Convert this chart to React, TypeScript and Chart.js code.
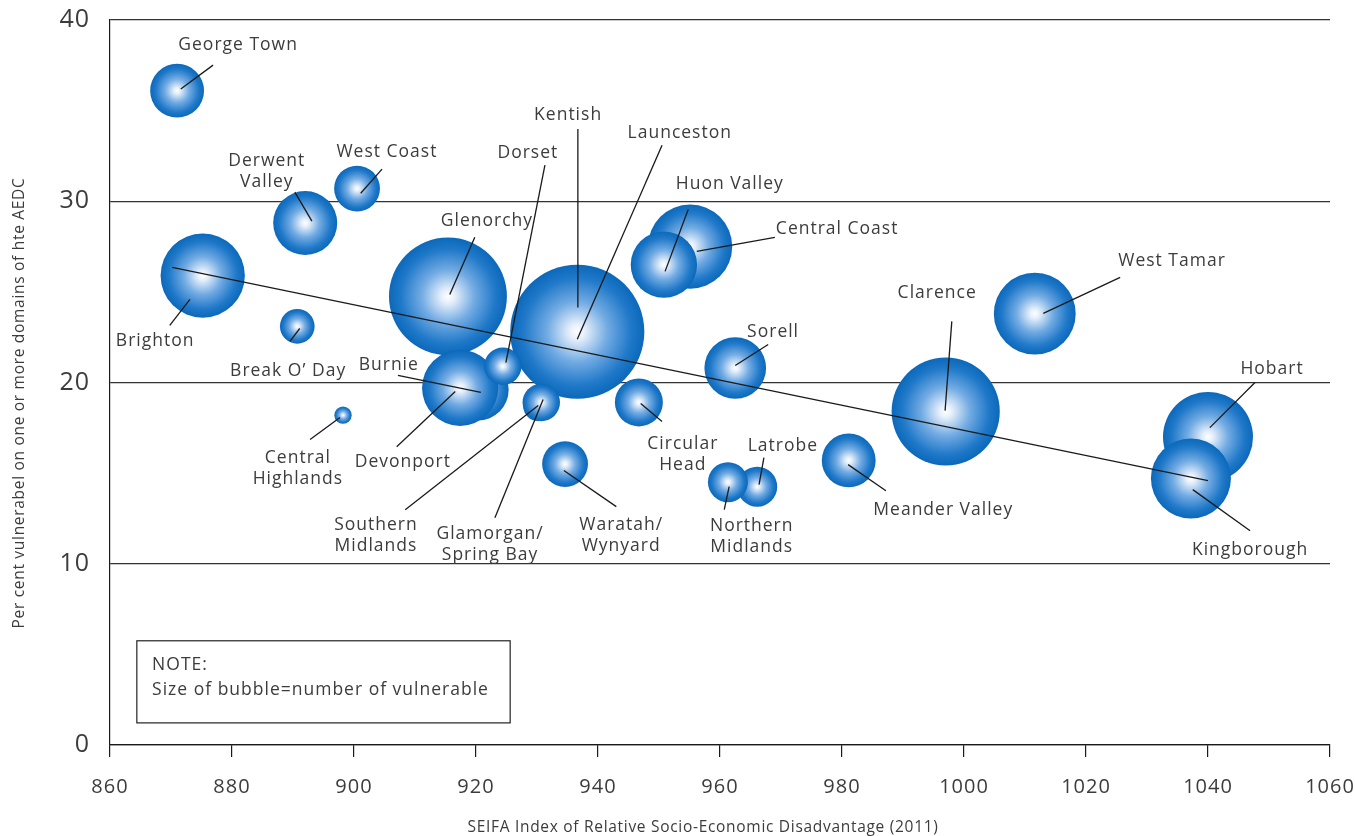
import React, { useEffect, useRef } from 'react';
import { Chart, registerables } from 'chart.js';

Chart.register(...registerables);

// ---- data (drawing order: back to front) ----
const areas = [
  'Kentish', 'Southern Midlands', 'Launceston', 'Glenorchy', 'Burnie', 'Devonport', 'Dorset',
  'Glamorgan/Spring Bay', 'Central Coast', 'Huon Valley', 'Latrobe', 'Northern Midlands',
  'Hobart', 'Kingborough', 'George Town', 'West Coast', 'Derwent Valley', 'Brighton',
  "Break O' Day", 'Central Highlands', 'Sorell', 'Circular Head', 'Waratah/Wynyard',
  'Meander Valley', 'Clarence', 'West Tamar',
];
// SEIFA index (x)
const seifa = [
  936.7, 930.2, 936.6, 915.4, 920.3, 917.4, 924.4,
  930.7, 955.1, 950.8, 966.1, 961.3,
  1040.0, 1037.2, 871.0, 900.5, 892.0, 875.2,
  890.7, 898.2, 962.5, 946.7, 934.6,
  981.1, 997.0, 1011.6,
];
// Per cent vulnerable (y)
const pctVulnerable = [
  24.1, 18.7, 22.8, 24.75, 19.6, 19.7, 20.9,
  18.9, 27.5, 26.5, 14.25, 14.5,
  17.0, 14.7, 36.1, 30.7, 28.8, 25.9,
  23.1, 18.2, 20.8, 18.9, 15.5,
  15.7, 18.4, 23.8,
];
// Number of vulnerable children (bubble size)
const numVulnerable = [
  4, 9, 180, 139, 38, 58, 14,
  14, 71, 44, 16, 16,
  81, 64, 29, 21, 41, 71,
  12, 3, 38, 23, 21,
  29, 117, 67,
];
// Trend line end points
const trendX = [870.2, 1040.0];
const trendY = [26.35, 14.59];

const xTicks = [860, 880, 900, 920, 940, 960, 980, 1000, 1020, 1040, 1060];
const yTicks = [0, 10, 20, 30, 40];

const X_TITLE = 'SEIFA Index of Relative Socio-Economic Disadvantage (2011)';
const Y_TITLE = 'Per cent vulnerabel on one or more domains of hte AEDC';
const NOTE_LINES = ['NOTE:', 'Size of bubble=number of vulnerable'];

// ---- annotations: label text, label position (data), leader line (data) ----
type Lbl = { lines: string[]; at: [number, number]; leader: [number, number, number, number] };
const labels: Lbl[] = [
  { lines: ['George Town'], at: [881.0, 38.62], leader: [876.9, 37.51, 871.6, 36.19] },
  { lines: ['Derwent', 'Valley'], at: [885.7, 32.21], leader: [890.3, 30.5, 893.1, 28.9] },
  { lines: ['West Coast'], at: [905.4, 32.71], leader: [904.6, 31.77, 901.1, 30.44] },
  { lines: ['Dorset'], at: [928.5, 32.65], leader: [931.3, 31.99, 924.9, 21.1] },
  { lines: ['Kentish'], at: [935.1, 34.75], leader: [936.7, 33.98, 936.7, 24.14] },
  { lines: ['Launceston'], at: [953.4, 33.76], leader: [950.5, 33.09, 936.6, 22.38] },
  { lines: ['Huon Valley'], at: [961.6, 30.94], leader: [954.8, 29.56, 951.0, 26.13] },
  { lines: ['Central Coast'], at: [979.2, 28.45], leader: [969.0, 28.01, 956.2, 27.24] },
  { lines: ['Glenorchy'], at: [921.8, 28.9], leader: [919.8, 28.01, 915.7, 24.86] },
  { lines: ['Brighton'], at: [867.4, 22.27], leader: [869.8, 23.15, 873.1, 24.59] },
  { lines: ['Break O\u2019 Day'], at: [889.2, 20.66], leader: [889.5, 22.27, 891.1, 22.98] },
  { lines: ['Burnie'], at: [905.7, 20.94], leader: [907.2, 20.39, 920.8, 19.45] },
  { lines: ['Devonport'], at: [908.0, 15.64], leader: [907.0, 16.46, 916.6, 19.5] },
  { lines: ['Central', 'Highlands'], at: [890.8, 15.86], leader: [892.8, 16.85, 897.7, 18.07] },
  { lines: ['Southern', 'Midlands'], at: [903.6, 12.15], leader: [908.4, 12.98, 930.2, 18.73] },
  { lines: ['Glamorgan/', 'Spring Bay'], at: [922.3, 11.66], leader: [923.1, 12.54, 931.0, 19.06] },
  { lines: ['Waratah/', 'Wynyard'], at: [943.8, 12.15], leader: [943.0, 13.15, 934.4, 15.14] },
  { lines: ['Circular', 'Head'], at: [953.9, 16.63], leader: [950.5, 17.85, 947.0, 18.84] },
  { lines: ['Sorell'], at: [968.7, 22.76], leader: [967.9, 22.1, 962.5, 20.94] },
  { lines: ['Latrobe'], at: [970.3, 16.52], leader: [967.2, 15.86, 966.4, 14.36] },
  { lines: ['Northern', 'Midlands'], at: [965.2, 12.1], leader: [960.7, 12.98, 961.5, 14.25] },
  { lines: ['Meander Valley'], at: [996.6, 12.98], leader: [987.2, 14.03, 981.0, 15.47] },
  { lines: ['Clarence'], at: [995.6, 24.92], leader: [998.0, 23.37, 996.9, 18.45] },
  { lines: ['West Tamar'], at: [1034.1, 26.69], leader: [1025.6, 25.8, 1013.0, 23.81] },
  { lines: ['Hobart'], at: [1050.5, 20.72], leader: [1047.7, 20.0, 1040.3, 17.51] },
  { lines: ['Kingborough'], at: [1046.9, 10.77], leader: [1046.9, 11.82, 1037.5, 14.09] },
];
const noteBox = { x1: 864.4, y1: 5.75, x2: 925.6, y2: 1.22, textX: 866.9, textY: [4.42, 3.04] };

const FONT = '"Open Sans", "DejaVu Sans", sans-serif';
const TEXT = '#3c3c3c';
const LINE = '#1a1a1a';
const GRID = '#333333';

const zeroPad = (s: any) => {
  s.paddingLeft = 0;
  s.paddingRight = 0;
  s.paddingTop = 0;
  s.paddingBottom = 0;
};

export default function App() {
  const ref = useRef<HTMLCanvasElement>(null);

  useEffect(() => {
    const canvas = ref.current;
    if (!canvas) return;

    const bubbleData = areas.map((_, i) => ({
      x: seifa[i],
      y: pctVulnerable[i],
      r: 5 * Math.sqrt(numVulnerable[i]),
    }));
    const trendData = trendX.map((x, i) => ({ x, y: trendY[i] }));

    const bubbleFill = (c: any) => {
      const chart = c.chart;
      const raw = c.raw;
      if (!raw || !chart.scales || !chart.scales.x || !chart.scales.y) return '#1f78c9';
      const px = chart.scales.x.getPixelForValue(raw.x);
      const py = chart.scales.y.getPixelForValue(raw.y);
      const r = raw.r;
      if (!isFinite(px) || !isFinite(py) || !isFinite(r) || r <= 0) return '#1f78c9';
      const g = chart.ctx.createRadialGradient(px, py, 0, px, py, r);
      g.addColorStop(0, '#ffffff');
      g.addColorStop(0.12, '#e4eefa');
      g.addColorStop(0.45, '#72abe3');
      g.addColorStop(0.8, '#2079c9');
      g.addColorStop(1, '#0b68ba');
      return g;
    };

    const spacing = {
      id: 'spacing',
      beforeDraw(chart: any) {
        chart.ctx.letterSpacing = '1px';
      },
    };

    const annot = {
      id: 'annot',
      afterDatasetsDraw(chart: any) {
        const { ctx } = chart;
        const sx = chart.scales.x;
        const sy = chart.scales.y;
        const X = (v: number) => sx.getPixelForValue(v);
        const Y = (v: number) => sy.getPixelForValue(v);
        ctx.save();
        // leader lines
        ctx.strokeStyle = LINE;
        ctx.lineWidth = 1.3;
        labels.forEach((l) => {
          ctx.beginPath();
          ctx.moveTo(X(l.leader[0]), Y(l.leader[1]));
          ctx.lineTo(X(l.leader[2]), Y(l.leader[3]));
          ctx.stroke();
        });
        // label text
        ctx.fillStyle = TEXT;
        ctx.letterSpacing = '1px';
        ctx.font = `17.5px ${FONT}`;
        ctx.textAlign = 'center';
        ctx.textBaseline = 'middle';
        labels.forEach((l) => {
          l.lines.forEach((t, k) => {
            ctx.fillText(t, X(l.at[0]), Y(l.at[1]) + k * 21);
          });
        });
        // note box
        ctx.strokeStyle = '#222';
        ctx.lineWidth = 1.2;
        const bx = X(noteBox.x1), by = Y(noteBox.y1);
        ctx.strokeRect(bx, by, X(noteBox.x2) - bx, Y(noteBox.y2) - by);
        ctx.textAlign = 'left';
        NOTE_LINES.forEach((t, k) => {
          ctx.fillText(t, X(noteBox.textX), Y(noteBox.textY[k]));
        });
        // axis titles
        ctx.letterSpacing = '0.7px';
        ctx.font = `15.5px ${FONT}`;
        ctx.textAlign = 'center';
        ctx.fillText(X_TITLE, 703, 828);
        ctx.translate(20, 403);
        ctx.rotate(-Math.PI / 2);
        ctx.fillText(Y_TITLE, 0, 0);
        ctx.restore();
      },
    };

    const chart = new Chart(canvas, {
      type: 'bubble',
      data: {
        datasets: [
          {
            type: 'line',
            data: trendData,
            borderColor: LINE,
            borderWidth: 1.3,
            pointRadius: 0,
            fill: false,
            order: 0,
          } as any,
          {
            type: 'bubble',
            data: bubbleData,
            backgroundColor: bubbleFill,
            borderWidth: 0,
            order: 1,
          } as any,
        ],
      },
      options: {
        responsive: true,
        maintainAspectRatio: false,
        animation: false,
        events: [],
        layout: { autoPadding: false, padding: { left: 0, right: 25, top: 20, bottom: 0 } },
        plugins: { legend: { display: false }, tooltip: { enabled: false } },
        scales: {
          x: {
            type: 'linear',
            min: xTicks[0],
            max: xTicks[xTicks.length - 1],
            afterFit: (s: any) => { s.height = 91; zeroPad(s); },
            afterBuildTicks: (s: any) => { s.ticks = xTicks.map((v) => ({ value: v })); },
            ticks: {
              color: TEXT,
              font: { family: FONT, size: 20 },
              padding: 18,
              callback: (v: any) => String(v),
            },
            grid: { drawOnChartArea: false, drawTicks: true, tickLength: 12, color: LINE, lineWidth: 1.2 },
            border: { display: true, color: LINE, width: 1.2 },
          },
          y: {
            type: 'linear',
            min: yTicks[0],
            max: yTicks[yTicks.length - 1],
            afterFit: (s: any) => { s.width = 110; zeroPad(s); },
            afterBuildTicks: (s: any) => { s.ticks = yTicks.map((v) => ({ value: v })); },
            ticks: {
              color: TEXT,
              font: { family: FONT, size: 25 },
              padding: 20,
              callback: (v: any) => String(v),
            },
            grid: { color: GRID, lineWidth: 1.2, drawTicks: false },
            border: { display: true, color: LINE, width: 1.2 },
          },
        },
      } as any,
      plugins: [spacing, annot],
    });

    return () => chart.destroy();
  }, []);

  return (
    <div style={{ position: 'fixed', left: 0, top: 0, width: 1355, height: 836, background: '#fff' }}>
      <canvas ref={ref} />
    </div>
  );
}
